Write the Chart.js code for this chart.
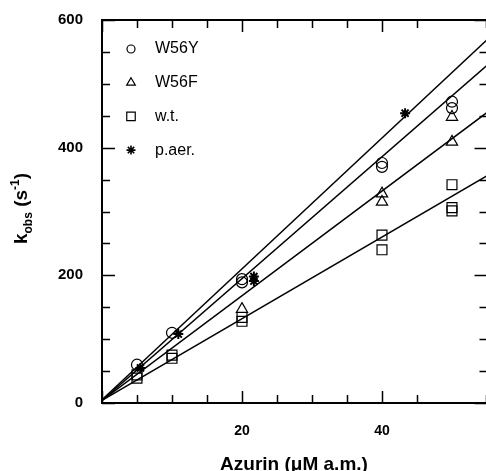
<!DOCTYPE html>
<html>
<head>
<meta charset="utf-8">
<script src="https://cdn.jsdelivr.net/npm/chart.js@4/dist/chart.umd.min.js"></script>
<style>
  html, body { margin: 0; padding: 0; background: #fff; overflow: hidden; }
  #kinetics { display: block; }
</style>
</head>
<body>
<canvas id="kinetics" width="486" height="471"></canvas>
<script>
// measured points (azurin conc in uM, k_obs in 1/s)
const w56yConc = [5, 10, 20, 20, 40, 40, 50, 50];
const w56yK    = [60, 110, 194, 189, 376, 370, 472, 462];

const w56fConc = [20, 40, 40, 50, 50];
const w56fK    = [147, 328, 315, 448, 409];

const wtConc = [5, 5, 10, 10, 20, 20, 40, 40, 50, 50, 50];
const wtK    = [44, 39, 75, 70, 134, 128, 263, 240, 342, 306, 301];

const paerConc = [5.5, 10.9, 21.7, 21.7, 43.3];
const paerK    = [55, 108, 198, 191, 454];

// fitted lines, read at both ends of the x range
const fitConc = [0, 55];
const fitPaer = [5, 569];
const fitW56Y = [4, 529];
const fitW56F = [4, 455];
const fitWt   = [4, 356];

const xTicks = [20, 40];
const yTicks = [0, 200, 400, 600];

const toXY = (xs, ys) => xs.map((x, i) => ({ x, y: ys[i] }));

function markerSet(label, xs, ys, style, radius, width) {
  return {
    type: 'scatter', label, data: toXY(xs, ys), order: 1,
    pointStyle: style, pointRadius: radius, pointHoverRadius: radius,
    pointBorderColor: '#000', pointBackgroundColor: 'rgba(0,0,0,0)',
    pointBorderWidth: width, showLine: false
  };
}

function fitLine(ys) {
  return {
    type: 'line', data: toXY(fitConc, ys), order: 2, fitLine: true,
    borderColor: '#000', borderWidth: 1.5, pointRadius: 0, fill: false
  };
}

// frame with inward ticks; the right axis sits just past the picture edge
const frameTicks = {
  id: 'frameTicks',
  afterDraw(chart) {
    const { ctx, chartArea: a, scales: { x, y } } = chart;
    const right = a.right + 1.5;
    ctx.save();
    ctx.strokeStyle = '#000';
    ctx.lineWidth = 2;
    ctx.beginPath();
    ctx.moveTo(a.left, a.top); ctx.lineTo(a.left, a.bottom);
    ctx.moveTo(a.left - 1, a.bottom); ctx.lineTo(right, a.bottom);
    ctx.moveTo(a.left - 1, a.top); ctx.lineTo(right, a.top);
    ctx.moveTo(right, a.top); ctx.lineTo(right, a.bottom);
    ctx.stroke();

    ctx.lineWidth = 1.5;
    ctx.beginPath();
    x.ticks.forEach(t => {
      const px = Math.round(x.getPixelForValue(t.value)) + 0.5;
      const len = t.value % 20 === 0 ? 12 : 8;
      ctx.moveTo(px, a.bottom); ctx.lineTo(px, a.bottom - len);
      ctx.moveTo(px, a.top); ctx.lineTo(px, a.top + len);
    });
    y.ticks.forEach(t => {
      const py = Math.round(y.getPixelForValue(t.value)) + 0.5;
      const len = t.value % 200 === 0 ? 13 : 8;
      ctx.moveTo(a.left, py); ctx.lineTo(a.left + len, py);
      ctx.moveTo(right, py); ctx.lineTo(right - len, py);
    });
    ctx.stroke();
    ctx.restore();
  }
};

// legend inside the plot, top left
const innerLegend = {
  id: 'innerLegend',
  afterDraw(chart) {
    const { ctx, chartArea: a } = chart;
    const sizes = { circle: 4, triangle: 5, rect: 6, star: 4.5 };
    let row = 0;
    ctx.save();
    ctx.font = '16px "Liberation Sans", Arial, sans-serif';
    ctx.textBaseline = 'middle';
    chart.data.datasets.forEach(ds => {
      if (ds.fitLine) return;
      const cy = a.top + 29 + row * 33.7;
      const cx = a.left + 29;
      ctx.fillStyle = 'rgba(0,0,0,0)';
      ctx.strokeStyle = '#000';
      ctx.lineWidth = ds.pointStyle === 'star' ? 1.6 : 1.2;
      Chart.helpers.drawPoint(ctx, {
        pointStyle: ds.pointStyle, radius: sizes[ds.pointStyle], rotation: 0,
        borderWidth: ctx.lineWidth
      }, cx, cy);
      ctx.fillStyle = '#000';
      ctx.fillText(ds.label, a.left + 53, cy);
      row++;
    });
    ctx.restore();
  }
};

// y axis title with subscript and superscript
const yTitle = {
  id: 'yTitle',
  afterDraw(chart) {
    const { ctx, chartArea: a } = chart;
    const big = 'bold 19px "Liberation Sans", Arial, sans-serif';
    const small = 'bold 12px "Liberation Sans", Arial, sans-serif';
    const parts = [
      { t: 'k', f: big, dy: 0 },
      { t: 'obs', f: small, dy: 5 },
      { t: ' (s', f: big, dy: 0 },
      { t: '-1', f: small, dy: -8 },
      { t: ')', f: big, dy: 0 }
    ];
    ctx.save();
    let total = 0;
    parts.forEach(p => { ctx.font = p.f; p.w = ctx.measureText(p.t).width; total += p.w; });
    ctx.translate(27, (a.top + a.bottom) / 2 - 3);
    ctx.rotate(-Math.PI / 2);
    ctx.fillStyle = '#000';
    ctx.textBaseline = 'alphabetic';
    let cur = -total / 2;
    parts.forEach(p => {
      ctx.font = p.f;
      ctx.fillText(p.t, cur, p.dy);
      cur += p.w;
    });
    ctx.restore();
  }
};

new Chart(document.getElementById('kinetics'), {
  data: {
    datasets: [
      markerSet('W56Y', w56yConc, w56yK, 'circle', 5.5, 1.2),
      markerSet('W56F', w56fConc, w56fK, 'triangle', 6.5, 1.2),
      markerSet('w.t.', wtConc, wtK, 'rect', 7, 1.2),
      markerSet('p.aer.', paerConc, paerK, 'star', 5, 2),
      fitLine(fitPaer),
      fitLine(fitW56Y),
      fitLine(fitW56F),
      fitLine(fitWt)
    ]
  },
  options: {
    responsive: false,
    animation: false,
    devicePixelRatio: 1,
    layout: { autoPadding: false, padding: { left: 0, right: 0, top: 20, bottom: 0 } },
    scales: {
      x: {
        type: 'linear', min: 0, max: 54.86,
        grid: { display: false, drawTicks: false },
        border: { display: false },
        afterFit(scale) {
          scale.height = 68;
          scale.paddingLeft = 0; scale.paddingRight = 0;
          scale.paddingTop = 0; scale.paddingBottom = 0;
        },
        ticks: {
          stepSize: 5, autoSkip: false, maxRotation: 0, padding: 20, color: '#000',
          font: { family: '"Liberation Sans", Arial, sans-serif', size: 14, weight: 'bold' },
          callback: v => xTicks.includes(v) ? String(v) : ''
        },
        title: {
          display: true, text: 'Azurin (\u03bcM a.m.)', color: '#000',
          font: { family: '"Liberation Sans", Arial, sans-serif', size: 19, weight: 'bold', lineHeight: 0.7 },
          padding: 0
        }
      },
      y: {
        type: 'linear', min: 0, max: 600,
        grid: { display: false, drawTicks: false },
        border: { display: false },
        afterFit(scale) {
          scale.width = 102;
          scale.paddingLeft = 0; scale.paddingRight = 0;
          scale.paddingTop = 0; scale.paddingBottom = 0;
        },
        ticks: {
          stepSize: 50, autoSkip: false, padding: 19, color: '#000',
          font: { family: '"Liberation Sans", Arial, sans-serif', size: 15, weight: 'bold' },
          callback: v => yTicks.includes(v) ? String(v) : ''
        }
      }
    },
    plugins: {
      legend: { display: false },
      tooltip: { enabled: false }
    }
  },
  plugins: [frameTicks, innerLegend, yTitle]
});
</script>
</body>
</html>
